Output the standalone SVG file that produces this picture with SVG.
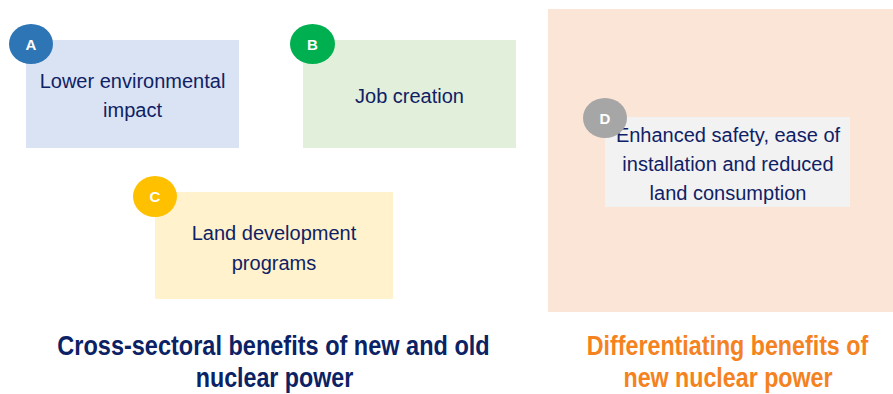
<svg xmlns="http://www.w3.org/2000/svg" width="893" height="394" viewBox="0 0 893 394">
  <style>
    .body { font-family: "Liberation Sans", Arial, sans-serif; font-size: 20px; fill: #0F2165; text-anchor: middle; }
    .badge { font-family: "Liberation Sans", Arial, sans-serif; font-size: 15px; font-weight: bold; fill: #FFFFFF; text-anchor: middle; }
    .title { font-family: "Liberation Sans", Arial, sans-serif; font-size: 28px; font-weight: bold; text-anchor: middle; }
    .navy { fill: #0B2265; }
    .orange { fill: #F58220; }
  </style>

  <!-- Panel for the differentiating benefits -->
  <rect id="panel-new" x="548" y="9" width="345" height="303" fill="#FBE5D7"/>

  <g id="node-a">
    <rect x="26" y="40" width="213" height="108" fill="#DAE3F3"/>
    <text class="body" x="132.5" y="88">Lower environmental</text>
    <text class="body" x="132.5" y="117">impact</text>
    <ellipse cx="31" cy="44" rx="22" ry="20" fill="#2E75B6"/>
    <text class="badge" x="31" y="49.5">A</text>
  </g>

  <g id="node-b">
    <rect x="303" y="40" width="213" height="108" fill="#E2EFDA"/>
    <text class="body" x="409.5" y="103">Job creation</text>
    <ellipse cx="312.5" cy="44" rx="22.5" ry="20" fill="#00B050"/>
    <text class="badge" x="312.5" y="49.5">B</text>
  </g>

  <g id="node-c">
    <rect x="155" y="192" width="238" height="107" fill="#FFF2CC"/>
    <text class="body" x="274" y="240">Land development</text>
    <text class="body" x="274" y="270">programs</text>
    <ellipse cx="155" cy="196.5" rx="22" ry="20.5" fill="#FFC000"/>
    <text class="badge" x="155" y="202">C</text>
  </g>

  <g id="node-d">
    <rect x="605" y="117" width="245" height="90" fill="#F2F2F2"/>
    <text class="body" x="728" y="142">Enhanced safety, ease of</text>
    <text class="body" x="728" y="171">installation and reduced</text>
    <text class="body" x="728" y="200">land consumption</text>
    <ellipse cx="605" cy="118" rx="22" ry="20" fill="#A6A6A6"/>
    <text class="badge" x="605" y="123.5">D</text>
  </g>

  <g id="connectors"></g>

  <!-- Captions: bold type squeezed horizontally for a condensed face -->
  <g id="caption-cross">
    <text class="title navy" transform="translate(273.5 355) scale(0.84 1)">Cross-sectoral benefits of new and old</text>
    <text class="title navy" transform="translate(274.5 387) scale(0.83 1)">nuclear power</text>
  </g>

  <g id="caption-new">
    <text class="title orange" transform="translate(727.5 355) scale(0.83 1)">Differentiating benefits of</text>
    <text class="title orange" transform="translate(728 387) scale(0.83 1)">new nuclear power</text>
  </g>
</svg>
